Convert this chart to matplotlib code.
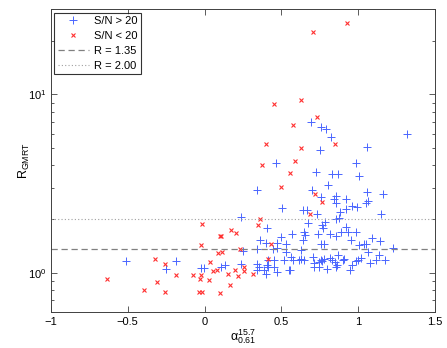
import numpy as np
import matplotlib
matplotlib.use('Agg')
import matplotlib.pyplot as plt

plt.rcParams.update({
    'font.family': 'Liberation Sans',
    'font.size': 8,
    'mathtext.fontset': 'custom',
    'mathtext.rm': 'Liberation Sans',
    'mathtext.it': 'Liberation Sans:italic',
    'mathtext.default': 'rm',
})

# S/N > 20 (blue +)
hi_alpha = [1.316, 0.693, 0.756, 0.788, 0.825, 0.749, 1.059, 0.467, 0.984, 0.725,
            0.829, 0.870, 1.007, 0.805, 0.339, 0.701, 0.760, 0.854, 0.844, 0.855,
            0.921, 1.057, 1.161, 1.062, 1.051, 0.958, 0.992, 0.507, 0.639, 0.667,
            0.734, 0.883, 0.923, 1.150, 0.239, 0.877, 0.855, 0.671, 0.762, 0.786,
            0.923, 0.773, 0.649, 0.652, 0.738, 0.936, 0.984, 0.890, 0.816, 0.854,
            1.090, 0.643, 0.955, 1.144, 0.760, 0.777, 1.007, 1.036, 1.051, 1.229,
            1.064, 1.137, 0.867, 1.018, 0.630, 0.649, 0.708, 0.760, 0.775, 0.816,
            0.831, 0.903, 0.910, 0.988, 1.001, 1.116, 1.173, 1.079, 0.714, 0.747,
            0.766, 0.847, 0.862, 0.958, 0.714, 0.747, 0.799, 0.855, 0.945,
            0.408, 0.571, 0.497, 0.361, 0.398, 0.473, 0.343, 0.252, 0.447, 0.473,
            0.532, 0.626, 0.5625, 0.415, 0.454, 0.519, 0.576, 0.613, 0.239, 0.135,
            0.109, -0.006, -0.023, 0.339, 0.356, 0.404, 0.411, 0.343, 0.387, 0.452,
            0.469, 0.551, 0.558, 0.400, -0.514, -0.186, -0.253, 0.528]
hi_R = [5.99, 6.97, 6.55, 6.36, 5.79, 4.85, 5.09, 4.14, 4.10, 3.69,
        3.56, 3.57, 3.47, 3.11, 2.92, 2.89, 2.66, 2.68, 2.58, 2.45,
        2.58, 2.85, 2.76, 2.52, 2.47, 2.36, 2.33, 2.29, 2.24, 2.24,
        2.14, 2.19, 2.27, 2.13, 2.06, 2.02, 1.99, 1.91, 1.85, 1.92,
        1.81, 1.77, 1.70, 1.62, 1.64, 1.68, 1.70, 1.68, 1.64, 1.60,
        1.57, 1.52, 1.52, 1.50, 1.455, 1.455, 1.42, 1.44, 1.44, 1.38,
        1.30, 1.25, 1.25, 1.21, 1.19, 1.18, 1.23, 1.18, 1.20, 1.21,
        1.17, 1.18, 1.19, 1.16, 1.18, 1.18, 1.17, 1.13, 1.13, 1.15,
        1.16, 1.14, 1.11, 1.11, 1.07, 1.08, 1.05, 1.08, 1.04,
        1.77, 1.65, 1.59, 1.52, 1.47, 1.47, 1.36, 1.33, 1.35, 1.37,
        1.30, 1.34, 1.22, 1.18, 1.18, 1.18, 1.17, 1.18, 1.12, 1.10,
        1.08, 1.067, 1.067, 1.12, 1.075, 1.11, 1.08, 1.04, 1.04, 1.075,
        1.013, 1.04, 1.04, 0.978, 1.16, 1.16, 1.05, 1.44]

# S/N < 20 (red x)
lo_alpha = [0.927, 0.706, 0.452, 0.626, 0.577, 0.402, 0.630, 0.589, 0.374, 0.556,
            0.734, 0.847, 0.497, 0.721, 0.764, 0.686, 0.359, 0.346, -0.019, 0.172,
            0.206, 0.100, 0.110, -0.025, 0.434, 0.230, 0.085, 0.111, 0.035, 0.410,
            0.260, 0.260, 0.201, 0.082, 0.057, 0.152, 0.221, 0.314, -0.020, -0.077,
            -0.027, 0.027, 0.164, -0.036, -0.015, 0.098, -0.323, -0.260, -0.635, -0.309,
            -0.186, -0.396, -0.260]
lo_R = [25.2, 22.5, 8.83, 9.25, 6.70, 5.24, 4.98, 4.25, 4.03, 3.62,
        7.46, 5.26, 3.01, 2.75, 2.48, 2.14, 2.01, 1.84, 1.88, 1.74,
        1.67, 1.61, 1.61, 1.43, 1.45, 1.36, 1.29, 1.31, 1.154, 1.20,
        1.08, 1.026, 1.034, 1.037, 1.023, 0.978, 0.956, 0.982, 0.968, 0.969,
        0.917, 0.909, 0.851, 0.780, 0.782, 0.773, 1.19, 1.125, 0.923, 0.882,
        0.968, 0.803, 0.782]

thresholds = [1.35, 2.00]
threshold_labels = ['R = 1.35', 'R = 2.00']

fig = plt.figure(figsize=(4.47, 3.48), dpi=100)
ax = fig.add_axes([0.114, 0.103, 0.859, 0.870])

ax.plot(hi_alpha, hi_R, '+', color='#4a66ff', markersize=5.5, markeredgewidth=0.7,
        label='S/N > 20')
ax.plot(lo_alpha, lo_R, 'x', color='#ff3030', markersize=3.2, markeredgewidth=0.8,
        label='S/N < 20')
ax.axhline(thresholds[0], color='#808080', linestyle=(0, (5, 3)), linewidth=0.9,
           label=threshold_labels[0])
ax.axhline(thresholds[1], color='#a0a0a0', linestyle=(0, (1, 2)), linewidth=0.8,
           label=threshold_labels[1])

ax.set_yscale('log')
ax.set_xlim(-1, 1.5)
ax.set_ylim(0.6, 30)
ax.set_xticks([-1, -0.5, 0, 0.5, 1, 1.5])
ax.set_xticklabels(['\u22121', '\u22120.5', '0', '0.5', '1', '1.5'])
ax.tick_params(which='both', direction='in', top=True, right=True, colors='#404040',
               labelcolor='black', width=0.6)
ax.tick_params(which='major', length=4)
ax.tick_params(which='minor', length=2.5)
for s in ax.spines.values():
    s.set_color('#404040')
    s.set_linewidth(0.7)

ax.set_xlabel(r'$\alpha^{15.7}_{0.61}$', fontsize=9, labelpad=0)
ax.set_ylabel(r'R$_{\mathrm{GMRT}}$', fontsize=9, labelpad=-3)

leg = ax.legend(loc='upper left', fontsize=8, frameon=True, fancybox=False,
                edgecolor='black', borderaxespad=0.3, handlelength=2.8,
                labelspacing=0.45, borderpad=0.3, handletextpad=0.5)
leg.get_frame().set_linewidth(0.8)

fig.savefig('out.png', dpi=100)
